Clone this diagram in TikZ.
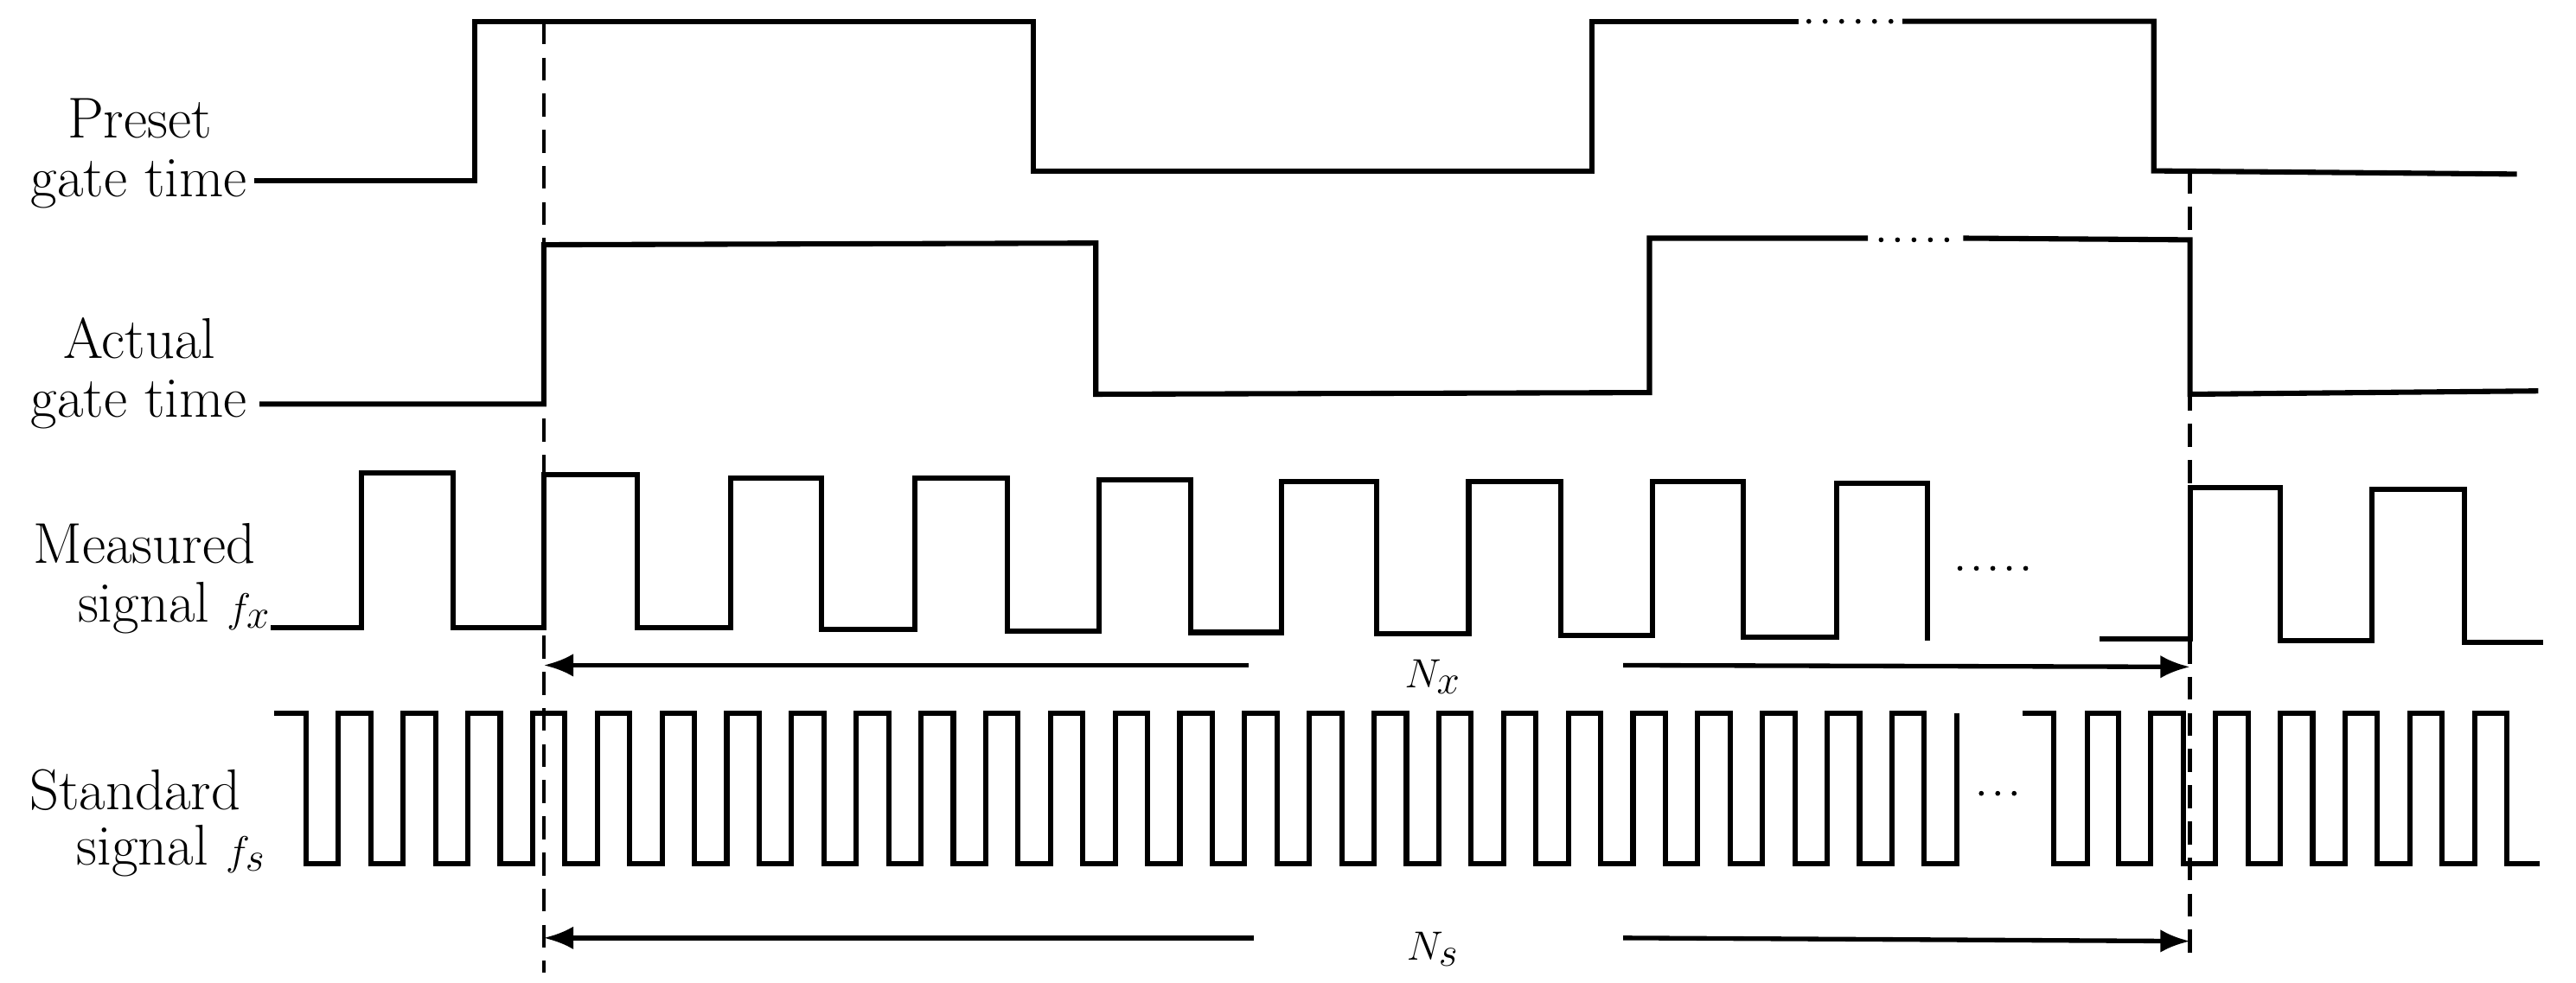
\documentclass[tikz,border=0pt]{standalone}
\usetikzlibrary{arrows.meta}
\begin{document}
\begin{tikzpicture}[x=1pt,y=-1pt,line width=3.2pt,
  lbl/.style={anchor=east,inner sep=0pt,font=\fontsize{35}{35}\selectfont},
  lblc/.style={anchor=base,inner sep=0pt,font=\fontsize{35}{35}\selectfont},
  dotsl/.style={line width=3pt,dash pattern=on 0pt off 10pt,line cap=round},
  dashln/.style={line width=2.2pt,dash pattern=on 14pt off 8pt},
  arr/.style={line width=2.8pt,-{Latex[length=18pt,width=14pt]}}]
\useasboundingbox (0,0) rectangle (1568,598);
% labels
\node[lblc] (p1) at (85,84) {Preset};
\node[lbl] (p2) at (152,112) {gate time};
\node[lblc] (a1) at (85,218) {Actual};
\node[lbl] (a2) at (152,246) {gate time};
\node[lbl] (m1) at (157,331) {Measured};
\node[lbl] (m2) at (166,370) {signal $f_x$};
\node[lbl] (s1) at (148,481) {Standard};
\node[lbl] (s2) at (163,518) {signal $f_s$};
% preset gate
\draw (155,110) -- (289,110) -- (289,13) -- (629,13) -- (629,104) -- (969,104) -- (969,13) -- (1095,13);
\draw (1158,13) -- (1311,13) -- (1311,104) -- (1532,106);
\draw[dotsl] (1101,13) -- (1152,13);
% actual gate
\draw (158,246) -- (331,246) -- (331,149) -- (667,148) -- (667,240) -- (1004,239) -- (1004,145) -- (1137,145);
\draw (1195,145) -- (1333,146) -- (1333,240) -- (1545,238);
\draw[dotsl] (1145,146) -- (1186,146);
% measured signal
\draw (165,382) -- (220,382) -- (220,288) -- (276,288) -- (276,382) -- (331,382) -- (331,289)
 -- (388,289) -- (388,382) -- (445,382) -- (445,291) -- (500,291) -- (500,383) -- (557,383) -- (557,291)
 -- (613,291) -- (613,384) -- (669,384) -- (669,292) -- (725,292) -- (725,385) -- (780,385) -- (780,293)
 -- (838,293) -- (838,386) -- (894,386) -- (894,293) -- (950,293) -- (950,387) -- (1006,387) -- (1006,293)
 -- (1061,293) -- (1061,388) -- (1118,388) -- (1118,294) -- (1173,294) -- (1173,390);
\draw (1278,389) -- (1333,389) -- (1333,297) -- (1388,297) -- (1388,390) -- (1444,390) -- (1444,298) -- (1500,298) -- (1500,391) -- (1548,391);
\draw[dotsl] (1193,346) -- (1242,346);
% standard signal
\draw (167,434) foreach \k in {-1,...,24} { -- ({206+39.4*\k+19.7},434) -- ({206+39.4*\k+19.7},526) -- ({206+39.4*(\k+1)},526) -- ({206+39.4*(\k+1)},434)};
\draw (1231,434) -- (1250.1,434) -- (1250.1,526) -- (1270.4,526) -- (1270.4,434) foreach \k in {27,...,32} { -- ({206+39.4*\k+19.7},434) -- ({206+39.4*\k+19.7},526) -- ({206+39.4*(\k+1)},526) -- ({206+39.4*(\k+1)},434)} -- (1526,434) -- (1526,526) -- (1546,526);
\draw[dotsl] (1206,483) -- (1228,483);
% dashed lines
\coordinate (d1t) at (331,13); \coordinate (d1b) at (331,592);
\coordinate (d2t) at (1333,104); \coordinate (d2b) at (1333,582);
\draw[dashln] (d1t) -- (d1b);
\draw[dashln] (d2t) -- (d2b);
% arrows
\coordinate (nxl) at (760,405); \coordinate (nxr) at (988,405);
\coordinate (nxa) at (331,405); \coordinate (nxb) at (1333,406);
\draw[arr] (nxl) -- (nxa);
\draw[arr] (nxr) -- (nxb);
\node[inner sep=0pt,font=\fontsize{35}{35}\selectfont] (nx) at (872,412) {$N_x$};
\coordinate (nsl) at (763,571); \coordinate (nsr) at (988,571);
\coordinate (nsa) at (331,571); \coordinate (nsb) at (1333,573);
\draw[arr] (nsl) -- (nsa);
\draw[arr] (nsr) -- (nsb);
\node[inner sep=0pt,font=\fontsize{35}{35}\selectfont] (ns) at (872,578) {$N_s$};
\end{tikzpicture}
\end{document}
